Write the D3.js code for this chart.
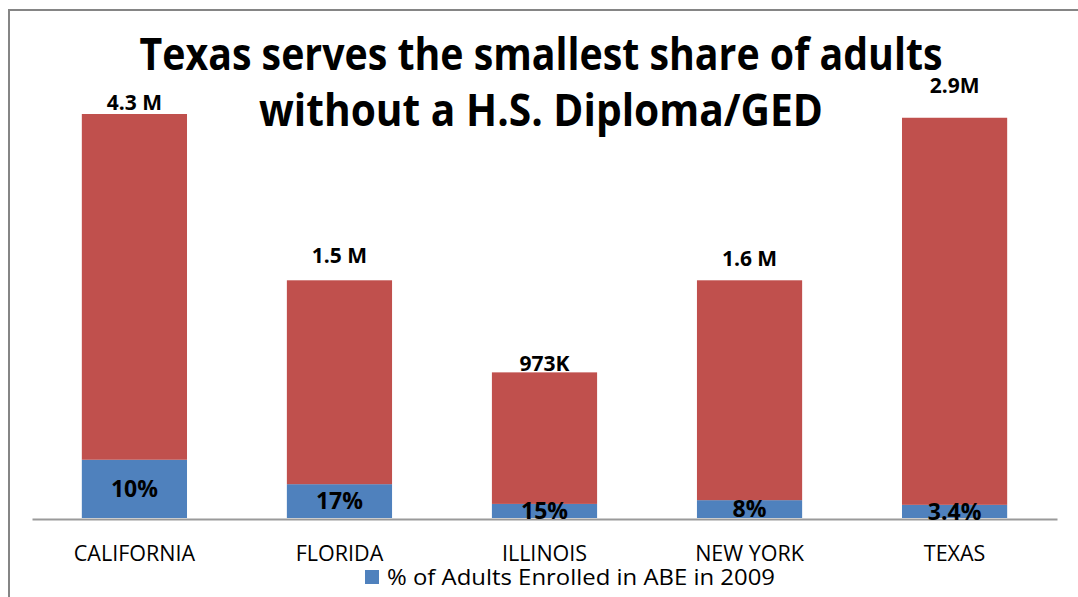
<!DOCTYPE html>
<html>
<head>
<meta charset="utf-8">
<script src="https://cdn.jsdelivr.net/npm/d3@7"></script>
<style>
  body { margin: 0; background: #fff; }
  text { font-family: "Open Sans", "Noto Sans", sans-serif; }
</style>
</head>
<body>
<div id="chart"></div>
<script>
// data (bar heights in chart units, not to scale with the labels)
var states = ['CALIFORNIA', 'FLORIDA', 'ILLINOIS', 'NEW YORK', 'TEXAS'];
var enrolled = [0.62, 0.36, 0.15, 0.19, 0.14];
var notEnrolled = [3.68, 2.17, 1.40, 2.34, 4.12];
var totalLabels = ['4.3 M', '1.5 M', '973K', '1.6 M', '2.9M'];
var shareLabels = ['10%', '17%', '15%', '8%', '3.4%'];
var legendLabel = '% of Adults Enrolled in ABE in 2009';
var titleLines = ['Texas serves the smallest share of adults', 'without a H.S. Diploma/GED'];

// label nudges (px above bar top) as placed in the original
var labelGap = [4, 17, 1, 14, 25];

var width = 1078, height = 597;
var margin = {top: 114, right: 21, bottom: 78, left: 32};

var svg = d3
  .select('#chart')
  .append('svg')
  .attr('width', width)
  .attr('height', height);

// frame
svg.append('path')
  .attr('d', 'M9,' + height + 'V10H' + width)
  .attr('fill', 'none')
  .attr('stroke', '#858585')
  .attr('stroke-width', 2);

var data = states.map(function (s, i) {
  return {state: s, enrolled: enrolled[i], rest: notEnrolled[i]};
});

var x = d3.scaleBand()
  .domain(states)
  .range([margin.left, width - margin.right])
  .paddingInner(0.487)
  .paddingOuter(0.243);

var y = d3.scaleLinear()
  .domain([0, 4.3])
  .range([height - margin.bottom - 1, margin.top]);

var stacked = d3.stack().keys(['enrolled', 'rest'])(data);
var color = d3.scaleOrdinal().domain(['enrolled', 'rest']).range(['#4f81bd', '#c0504d']);

svg.append('g')
  .selectAll('g')
  .data(stacked)
  .enter()
  .append('g')
  .attr('fill', function (d) { return color(d.key); })
  .selectAll('rect')
  .data(function (d) { return d; })
  .enter()
  .append('rect')
  .attr('x', function (d) { return x(d.data.state); })
  .attr('y', function (d) { return y(d[1]); })
  .attr('height', function (d) { return y(d[0]) - y(d[1]); })
  .attr('width', x.bandwidth());

// baseline / x axis
var xAxis = svg.append('g')
  .attr('transform', 'translate(0,' + (height - margin.bottom) + ')')
  .call(d3.axisBottom(x).tickSize(0).tickPadding(27).tickSizeOuter(0));
xAxis.select('.domain').attr('stroke', '#9a9a9a').attr('stroke-width', 2);
xAxis.selectAll('text')
  .attr('font-family', 'Open Sans, sans-serif')
  .attr('font-size', 21.5)
  .attr('fill', '#000');

// total labels above bars
svg.append('g')
  .selectAll('text')
  .data(data)
  .enter()
  .append('text')
  .attr('x', function (d) { return x(d.state) + x.bandwidth() / 2; })
  .attr('y', function (d, i) { return y(d.enrolled + d.rest) - labelGap[i]; })
  .attr('text-anchor', 'middle')
  .attr('font-size', 21)
  .attr('font-weight', 'bold')
  .text(function (d, i) { return totalLabels[i]; });

// share labels in the blue segments
svg.append('g')
  .selectAll('text')
  .data(data)
  .enter()
  .append('text')
  .attr('x', function (d) { return x(d.state) + x.bandwidth() / 2; })
  .attr('y', function (d) { return y(d.enrolled / 2); })
  .attr('dy', '0.36em')
  .attr('text-anchor', 'middle')
  .attr('font-size', 23)
  .attr('font-weight', 'bold')
  .text(function (d, i) { return shareLabels[i]; });

// title
svg.append('g')
  .selectAll('text')
  .data(titleLines)
  .enter()
  .append('text')
  .attr('x', 541)
  .attr('y', function (d, i) { return 70 + i * 56; })
  .attr('text-anchor', 'middle')
  .attr('font-size', 44)
  .attr('font-weight', 'bold')
  .attr('textLength', function (d, i) { return i === 0 ? 803 : 564; })
  .attr('lengthAdjust', 'spacingAndGlyphs')
  .text(function (d) { return d; });

// legend
var legend = svg.append('g').attr('transform', 'translate(365,570)');
legend.append('rect')
  .attr('width', 14)
  .attr('height', 14)
  .attr('fill', '#4f81bd');
legend.append('text')
  .attr('x', 22)
  .attr('y', 15)
  .attr('font-size', 21)
  .attr('textLength', 388)
  .attr('lengthAdjust', 'spacingAndGlyphs')
  .text(legendLabel);
</script>
</body>
</html>
